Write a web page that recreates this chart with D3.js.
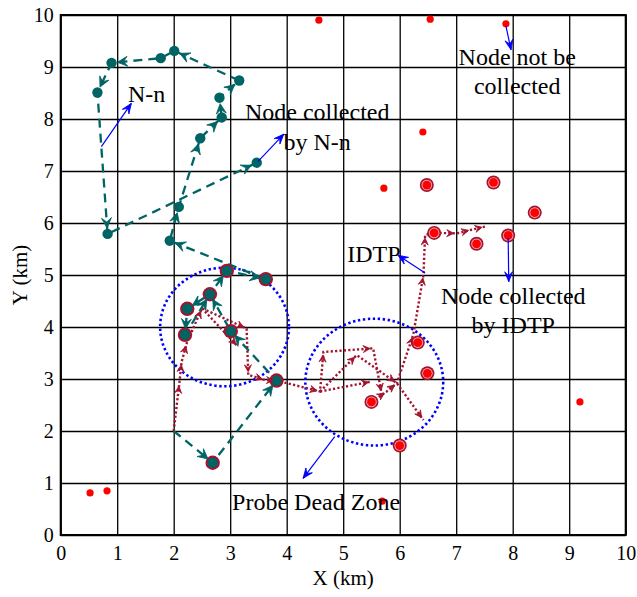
<!DOCTYPE html>
<html>
<head>
<meta charset="utf-8">
<script src="https://cdn.jsdelivr.net/npm/d3@7"></script>
<style>
  body { margin: 0; background: #fff; }
  svg text { font-family: "Liberation Serif", "Times New Roman", serif; fill: #000; }
</style>
</head>
<body>
<div id="chart"></div>
<script>
// values (km)
var xTicks = [0, 1, 2, 3, 4, 5, 6, 7, 8, 9, 10];
var yTicks = [0, 1, 2, 3, 4, 5, 6, 7, 8, 9, 10];

// nodes nobody collected
var plainRed = [[4.57, 9.90], [6.54, 9.92], [7.88, 9.83], [6.41, 7.75], [5.72, 6.67],
                [9.19, 2.56], [0.52, 0.81], [0.82, 0.85], [5.69, 0.65]];
// nodes collected by IDTP
var idtpNodes = [[6.48, 6.73], [7.66, 6.78], [8.39, 6.20], [6.61, 5.81], [7.36, 5.60],
                 [7.92, 5.76], [6.32, 3.70], [6.49, 3.11], [5.50, 2.56], [6.00, 1.72]];
// nodes collected by N-n (plain and inside the dead zone)
var nnNodes = [[0.90, 9.08], [1.77, 9.17], [2.01, 9.31], [3.16, 8.74], [2.81, 8.41],
               [2.85, 8.03], [2.47, 7.63], [3.47, 7.16], [0.65, 8.51], [0.83, 5.79],
               [1.93, 5.66], [2.09, 6.31]];
var nnRinged = [[2.94, 5.08], [3.63, 4.92], [2.64, 4.63], [2.24, 4.35],
                [2.20, 3.85], [3.01, 3.92], [3.82, 2.97], [2.69, 1.39]];

// N-n route
var nnRoute = [[2.00, 2.00], [2.69, 1.39], [3.82, 2.97], [3.01, 3.92], [2.64, 4.63],
               [2.24, 4.35], [2.20, 3.85], [2.64, 4.63], [2.94, 5.08], [3.63, 4.92],
               [1.93, 5.66], [2.09, 6.31], [2.47, 7.63], [2.85, 8.03], [2.81, 8.41],
               [3.16, 8.74], [2.01, 9.31], [1.77, 9.17], [0.90, 9.08], [0.65, 8.51],
               [0.83, 5.79], [3.47, 7.16]];

// IDTP routes
var idtpRoutes = [
  [[2.00, 2.00], [2.10, 2.92], [2.14, 3.33], [2.23, 3.69], [2.50, 4.36], [3.29, 3.97],
   [3.32, 3.08], [3.62, 2.98], [3.82, 2.97], [4.59, 2.76], [4.65, 3.52], [5.53, 3.59],
   [5.68, 2.72]],
  [[2.50, 4.36], [3.14, 3.62]],
  [[4.59, 2.76], [5.24, 3.46], [5.95, 2.92], [6.42, 2.21]],
  [[4.59, 2.76], [5.50, 2.95]],
  [[5.50, 2.56], [5.77, 2.76], [5.95, 2.92], [6.24, 3.85], [6.42, 5.00], [6.45, 5.77],
   [6.61, 5.81], [7.01, 5.80], [7.27, 5.87], [7.51, 5.93]]
];

// probe dead zones
var zoneX = [2.90, 5.55];
var zoneY = [4.00, 2.94];
var zoneR = [1.14, 1.22];

// annotation arrows [from, to]
var noteArrows = [
  [[0.72, 7.47], [1.25, 8.30]],
  [[3.49, 7.18], [3.95, 7.71]],
  [[7.88, 9.79], [7.97, 9.33]],
  [[6.45, 5.04], [5.97, 5.38]],
  [[7.92, 5.71], [7.93, 4.87]],
  [[4.85, 1.89], [4.29, 1.09]]
];
var noteText = ['N-n', 'Node collected', 'by N-n', 'Node not be', 'collected', 'IDTP',
                'Node collected', 'by IDTP', 'Probe Dead Zone'];
var noteX = [1.19, 4.54, 4.54, 8.08, 8.08, 5.07, 8.01, 8.01, 4.52];
var noteY = [8.33, 7.98, 7.40, 9.04, 8.48, 5.25, 4.44, 3.88, 0.48];
var noteAnchor = ['start', 'middle', 'middle', 'middle', 'middle', 'start', 'middle', 'middle', 'middle'];

var width = 637, height = 597;
var teal = '#006464', wine = '#a2142f';

var svg = d3.select('#chart').append('svg')
  .attr('width', width)
  .attr('height', height);

var x = d3.scaleLinear().domain([0, 10]).range([60.7, 625.7]);
var y = d3.scaleLinear().domain([0, 10]).range([535, 15]);

// grid
svg.append('g')
  .attr('transform', 'translate(0,535)')
  .call(d3.axisBottom(x).tickValues(xTicks).tickSize(-520).tickFormat(''))
  .call(function (g) {
    g.select('.domain').remove();
    g.selectAll('line').attr('stroke', '#000').attr('stroke-width', 1.3);
  });
svg.append('g')
  .attr('transform', 'translate(60.7,0)')
  .call(d3.axisLeft(y).tickValues(yTicks).tickSize(-565).tickFormat(''))
  .call(function (g) {
    g.select('.domain').remove();
    g.selectAll('line').attr('stroke', '#000').attr('stroke-width', 1.3);
  });

// tick labels
svg.append('g')
  .attr('transform', 'translate(0,535)')
  .call(d3.axisBottom(x).tickValues(xTicks).tickSize(0).tickPadding(11))
  .call(function (g) {
    g.select('.domain').remove();
    g.selectAll('text').attr('font-size', 20).attr('font-family', 'Liberation Serif');
  });
svg.append('g')
  .attr('transform', 'translate(60.7,0)')
  .call(d3.axisLeft(y).tickValues(yTicks).tickSize(0).tickPadding(7))
  .call(function (g) {
    g.select('.domain').remove();
    g.selectAll('text').attr('font-size', 20).attr('font-family', 'Liberation Serif');
  });

svg.append('rect')
  .attr('x', x(0)).attr('y', y(10))
  .attr('width', x(10) - x(0)).attr('height', y(0) - y(10))
  .attr('fill', 'none').attr('stroke', '#000').attr('stroke-width', 2);

svg.append('text')
  .attr('x', (x(0) + x(10)) / 2).attr('y', 585)
  .attr('text-anchor', 'middle').attr('font-size', 21)
  .text('X (km)');
svg.append('text')
  .attr('transform', 'translate(27,' + (y(5)) + ') rotate(-90)')
  .attr('text-anchor', 'middle').attr('font-size', 21)
  .text('Y (km)');

// dead zones
svg.selectAll('.zone')
  .data(zoneX)
  .enter().append('ellipse')
  .attr('class', 'zone')
  .attr('cx', function (d) { return x(d); })
  .attr('cy', function (d, i) { return y(zoneY[i]); })
  .attr('rx', function (d, i) { return x(zoneR[i]) - x(0); })
  .attr('ry', function (d, i) { return y(0) - y(zoneR[i]); })
  .attr('fill', 'none')
  .attr('stroke', '#0000ff')
  .attr('stroke-width', 2.6)
  .attr('stroke-dasharray', '2.4 2.6');

var line = d3.line()
  .x(function (d) { return x(d[0]); })
  .y(function (d) { return y(d[1]); });

// arrow head drawn at the end of a segment, pulled back by 'back' px
function arrowAt(g, p, q, back, len, wid, color) {
  var x1 = x(p[0]), y1 = y(p[1]), x2 = x(q[0]), y2 = y(q[1]);
  var dx = x2 - x1, dy = y2 - y1;
  var L = Math.sqrt(dx * dx + dy * dy);
  if (L < back + len) return;
  var tx = x2 - dx / L * back, ty = y2 - dy / L * back;
  var ang = Math.atan2(dy, dx) * 180 / Math.PI;
  g.append('path')
    .attr('d', 'M0,0 L' + (-len) + ',' + (-wid) + ' L' + (-len * 0.6) + ',0 L' + (-len) + ',' + wid + ' Z')
    .attr('transform', 'translate(' + tx + ',' + ty + ') rotate(' + ang + ')')
    .attr('fill', color)
    .attr('stroke', color)
    .attr('stroke-width', 0.8);
}

// IDTP routes (dotted)
var redG = svg.append('g');
idtpRoutes.forEach(function (r) {
  redG.append('path')
    .attr('d', line(r))
    .attr('fill', 'none')
    .attr('stroke', wine)
    .attr('stroke-width', 2.4)
    .attr('stroke-dasharray', '2.2 2.2');
});

// N-n route (dashed)
svg.append('path')
  .attr('d', line(nnRoute))
  .attr('fill', 'none')
  .attr('stroke', teal)
  .attr('stroke-width', 2.3)
  .attr('stroke-dasharray', '9 6');

// nodes
svg.selectAll('.pr')
  .data(plainRed)
  .enter().append('circle')
  .attr('class', 'pr')
  .attr('cx', function (d) { return x(d[0]); })
  .attr('cy', function (d) { return y(d[1]); })
  .attr('r', 3.6)
  .attr('fill', '#ff0000');

var idG = svg.selectAll('.idn')
  .data(idtpNodes)
  .enter().append('g')
  .attr('class', 'idn')
  .attr('transform', function (d) { return 'translate(' + x(d[0]) + ',' + y(d[1]) + ')'; });
idG.append('circle').attr('r', 7).attr('fill', wine);
idG.append('circle').attr('r', 5.3).attr('fill', '#f3a3ae');
idG.append('circle').attr('r', 4.4).attr('fill', '#ff0000');

svg.selectAll('.nnr')
  .data(nnRinged)
  .enter().append('circle')
  .attr('class', 'nnr')
  .attr('cx', function (d) { return x(d[0]); })
  .attr('cy', function (d) { return y(d[1]); })
  .attr('r', 7.2)
  .attr('fill', wine);

svg.selectAll('.nn')
  .data(nnNodes.concat(nnRinged))
  .enter().append('circle')
  .attr('class', 'nn')
  .attr('cx', function (d) { return x(d[0]); })
  .attr('cy', function (d) { return y(d[1]); })
  .attr('r', 5.2)
  .attr('fill', teal);

// arrow heads on the routes
var arrG = svg.append('g');
idtpRoutes.forEach(function (r) {
  for (var i = 1; i < r.length; i++) {
    arrG.call(arrowAt, r[i - 1], r[i], 3, 7, 3.5, wine);
  }
});
for (var i = 1; i < nnRoute.length; i++) {
  arrG.call(arrowAt, nnRoute[i - 1], nnRoute[i], 6, 10, 5, teal);
}

// annotations
noteArrows.forEach(function (a) {
  svg.append('line')
    .attr('x1', x(a[0][0])).attr('y1', y(a[0][1]))
    .attr('x2', x(a[1][0])).attr('y2', y(a[1][1]))
    .attr('stroke', '#0000ff')
    .attr('stroke-width', 1.2);
  svg.call(arrowAt, a[0], a[1], 0, 10, 4, '#0000ff');
});

svg.selectAll('.note')
  .data(noteText)
  .enter().append('text')
  .attr('class', 'note')
  .attr('x', function (d, i) { return x(noteX[i]); })
  .attr('y', function (d, i) { return y(noteY[i]); })
  .attr('text-anchor', function (d, i) { return noteAnchor[i]; })
  .attr('font-size', 24)
  .text(function (d) { return d; });
</script>
</body>
</html>
